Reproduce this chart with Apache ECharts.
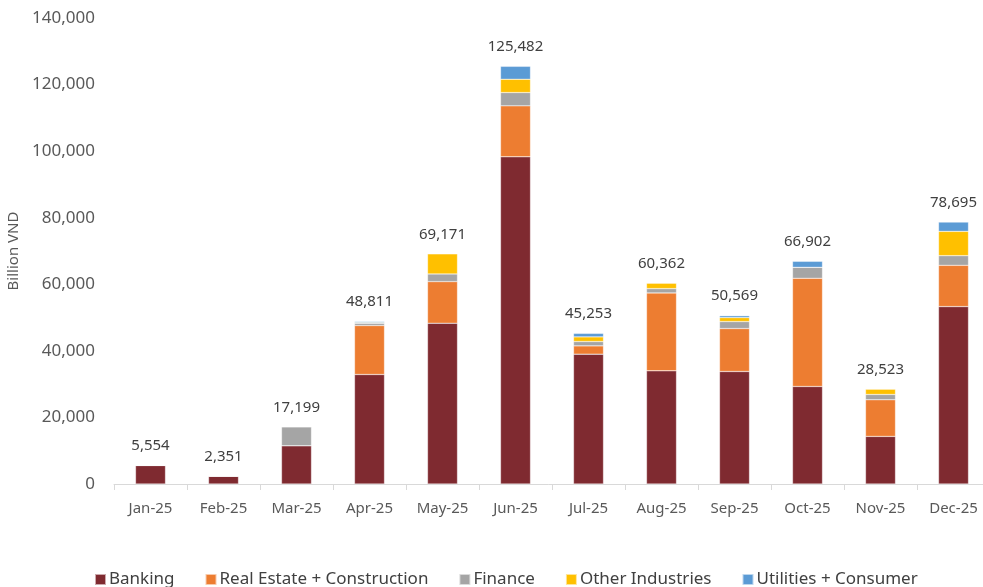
<!DOCTYPE html>
<html>
<head>
<meta charset="utf-8">
<script src="https://cdn.jsdelivr.net/npm/echarts@6/dist/echarts.min.js"></script>
<style>
  html, body { margin: 0; padding: 0; background: #fff; }
  #chart { width: 983px; height: 587px; }
</style>
</head>
<body>
<div id="chart"></div>
<script>
const months = ['Jan-25', 'Feb-25', 'Mar-25', 'Apr-25', 'May-25', 'Jun-25', 'Jul-25', 'Aug-25', 'Sep-25', 'Oct-25', 'Nov-25', 'Dec-25'];
const banking = [5554, 2351, 11500, 32900, 48300, 98300, 39000, 34000, 33800, 29300, 14300, 53300];
const realEstate = [0, 0, 0, 14700, 12500, 15300, 2500, 23400, 12900, 32500, 11000, 12400];
const finance = [0, 0, 5699, 700, 2300, 4000, 1300, 1300, 2100, 3300, 1600, 2900];
const otherInd = [0, 0, 0, 200, 6071, 4000, 1400, 1662, 1200, 0, 1623, 7300];
const utilities = [0, 0, 0, 311, 0, 3882, 1053, 0, 569, 1802, 0, 2795];
const totals = [5554, 2351, 17199, 48811, 69171, 125482, 45253, 60362, 50569, 66902, 28523, 78695];
const yTicks = [0, 20000, 40000, 60000, 80000, 100000, 120000, 140000];

const font = 'Noto Sans';
const fmt = v => v.toLocaleString('en-US');

function stackSeries(name, data, color) {
  return {
    name: name,
    type: 'bar',
    stack: 'total',
    data: data,
    barWidth: 30,
    itemStyle: { color: color, borderColor: 'rgba(255,255,255,0.6)', borderWidth: 0.5 }
  };
}

const chart = echarts.init(document.getElementById('chart'));
chart.setOption({
  animation: false,
  textStyle: { fontFamily: font },
  grid: { left: 114, right: -7, top: 18, bottom: 103, outerBoundsMode: 'none' },
  legend: {
    data: ['Banking', 'Real Estate + Construction', 'Finance', 'Other Industries', 'Utilities + Consumer'],
    left: 89,
    top: 566,
    itemWidth: 11,
    itemHeight: 11,
    itemGap: 30,
    icon: 'rect',
    textStyle: { fontSize: 17, color: '#404040', fontFamily: font, padding: [0, 0, 0, -2] }
  },
  xAxis: {
    type: 'category',
    data: months,
    axisLine: { lineStyle: { color: '#d9d9d9', width: 1 } },
    axisTick: { show: true, length: 6, lineStyle: { color: '#d9d9d9' } },
    axisLabel: { fontSize: 15, color: '#595959', margin: 17, fontFamily: font }
  },
  yAxis: {
    type: 'value',
    min: yTicks[0],
    max: yTicks[yTicks.length - 1],
    interval: yTicks[1] - yTicks[0],
    name: 'Billion VND',
    nameLocation: 'middle',
    nameGap: 86,
    nameRotate: 90,
    nameTextStyle: { fontSize: 15, color: '#595959', fontFamily: font },
    axisLine: { show: false },
    axisTick: { show: false },
    splitLine: { show: false },
    axisLabel: { fontSize: 17, color: '#595959', margin: 19, formatter: fmt, fontFamily: font }
  },
  series: [
    stackSeries('Banking', banking, '#7f2a30'),
    stackSeries('Real Estate + Construction', realEstate, '#ed7d31'),
    stackSeries('Finance', finance, '#a5a5a5'),
    stackSeries('Other Industries', otherInd, '#ffc000'),
    stackSeries('Utilities + Consumer', utilities, '#5b9bd5'),
    {
      name: 'Total',
      type: 'scatter',
      data: totals,
      symbol: 'circle',
      symbolSize: 2,
      itemStyle: { color: 'rgba(0,0,0,0)' },
      silent: true,
      z: 10,
      label: {
        show: true,
        position: 'top',
        distance: 11,
        fontSize: 15,
        color: '#404040',
        opacity: 1,
        fontFamily: font,
        formatter: p => fmt(p.value)
      }
    }
  ]
});
</script>
</body>
</html>
